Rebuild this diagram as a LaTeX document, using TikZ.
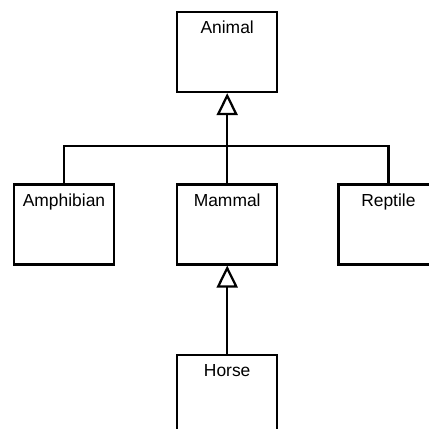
\documentclass[tikz,border=0pt]{standalone}
\usepackage{fontspec}
\setmainfont{Liberation Sans}
\usepackage{tikz}
\usetikzlibrary{arrows.meta, positioning, calc}

\tikzset{
  classbox/.style={draw, line width=1.6pt, minimum width=2.5cm, minimum height=2cm,
    inner xsep=0pt, inner ysep=6.6pt, text height=9pt, text depth=34.7pt},
  inherit/.style={line width=1.6pt, -{Triangle[open, length=0.55cm, width=0.525cm]}}
}

\begin{document}
\begin{tikzpicture}[font=\fontsize{12.4}{14}\selectfont]
  \clip (0, 0) rectangle (10.725, -10.725);
  \fill[white] (0, 0) rectangle (10.725, -10.725);

  \node[classbox] (animal) at (5.68, -1.3) {Animal};
  \node[classbox] (amphibian) at (1.6, -5.61) {Amphibian};
  \node[classbox] (mammal) at (5.68, -5.61) {Mammal};
  \node[classbox] (reptile) at (9.71, -5.61) {Reptile};
  \node[classbox] (horse) at (5.68, -9.875) {Horse};

  \draw[inherit] (mammal.north) -- (animal.south);
  \draw[line width=1.6pt] (amphibian.north) -- ++(0, 0.925) -| (reptile.north);
  \draw[inherit] (horse.north) -- (mammal.south);
\end{tikzpicture}
\end{document}
